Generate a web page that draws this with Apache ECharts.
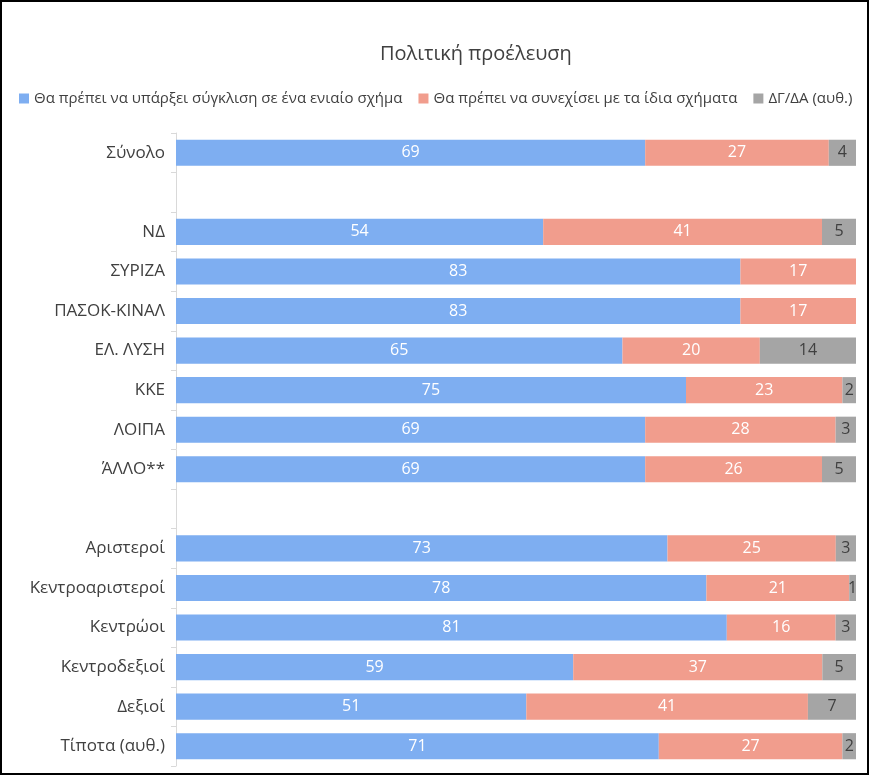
<!DOCTYPE html>
<html><head><meta charset="utf-8">
<script src="https://cdn.jsdelivr.net/npm/echarts@6/dist/echarts.min.js"></script>
<style>
html,body{margin:0;padding:0;background:#fff;}
#wrap{width:869px;height:775px;box-sizing:border-box;border:2px solid #000;position:relative;}
#c{position:absolute;left:-2px;top:-2px;width:869px;height:775px;}
</style></head>
<body><div id="wrap"><div id="c"></div></div>
<script>
const categories = ['Σύνολο','','ΝΔ','ΣΥΡΙΖΑ','ΠΑΣΟΚ-ΚΙΝΑΛ','ΕΛ. ΛΥΣΗ','ΚΚΕ','ΛΟΙΠΑ','ΆΛΛΟ**','','Αριστεροί','Κεντροαριστεροί','Κεντρώοι','Κεντροδεξιοί','Δεξιοί','Τίποτα (αυθ.)'];
const convergence = [69,null,54,83,83,65,75,69,69,null,73,78,81,59,51,71];
const continueSame = [27,null,41,17,17,20,23,28,26,null,25,21,16,37,41,27];
const dkna = [4,null,5,null,null,14,2,3,5,null,3,1,3,5,7,2];
const seriesNames = ['Θα πρέπει να υπάρξει σύγκλιση σε ένα ενιαίο σχήμα','Θα πρέπει να συνεχίσει με τα ίδια σχήματα','ΔΓ/ΔΑ (αυθ.)'];
const colors = ['#7EAEF1','#F19D8D','#A5A5A5'];
const raw = [convergence, continueSame, dkna];
const totals = categories.map((c,i)=>raw.reduce((s,a)=>s+(a[i]||0),0));
const font = 'Open Sans';
const series = raw.map((arr,k)=>({
  name: seriesNames[k], type:'bar', stack:'t', barCategoryGap:'34%',
  itemStyle:{color:colors[k]},
  data: arr.map((v,i)=> v==null ? null : {value: v/totals[i]*100, raw: v}),
  label:{show:true, position: 'inside', color: k===2?'#404040':'#fff', fontSize:16, fontFamily:font,
    formatter: p => p.data && p.data.raw!=null ? String(p.data.raw) : ''},
  emphasis:{disabled:true}
}));
const chart = echarts.init(document.getElementById('c'));
chart.setOption({
  animation:false,
  title:{text:'Πολιτική προέλευση', left:375, top:39, textStyle:{fontFamily:font, fontSize:20, fontWeight:'normal', color:'#404040'}},
  legend:{top:91, left:19, itemWidth:10, itemHeight:10, itemGap:16, icon:'rect',
    textStyle:{fontFamily:font, fontSize:15, color:'#404040'}, padding:0, data:seriesNames},
  grid:{left:176, right:13, top:133, bottom:9, containLabel:false},
  xAxis:{type:'value', min:0, max:100, show:false},
  yAxis:{type:'category', data:categories, inverse:true,
    axisLine:{lineStyle:{color:'#D9D9D9'}}, axisTick:{show:true, length:5, lineStyle:{color:'#D9D9D9'}},
    axisLabel:{fontFamily:font, fontSize:17, color:'#404040', margin:11}},
  series
});
</script></body></html>
